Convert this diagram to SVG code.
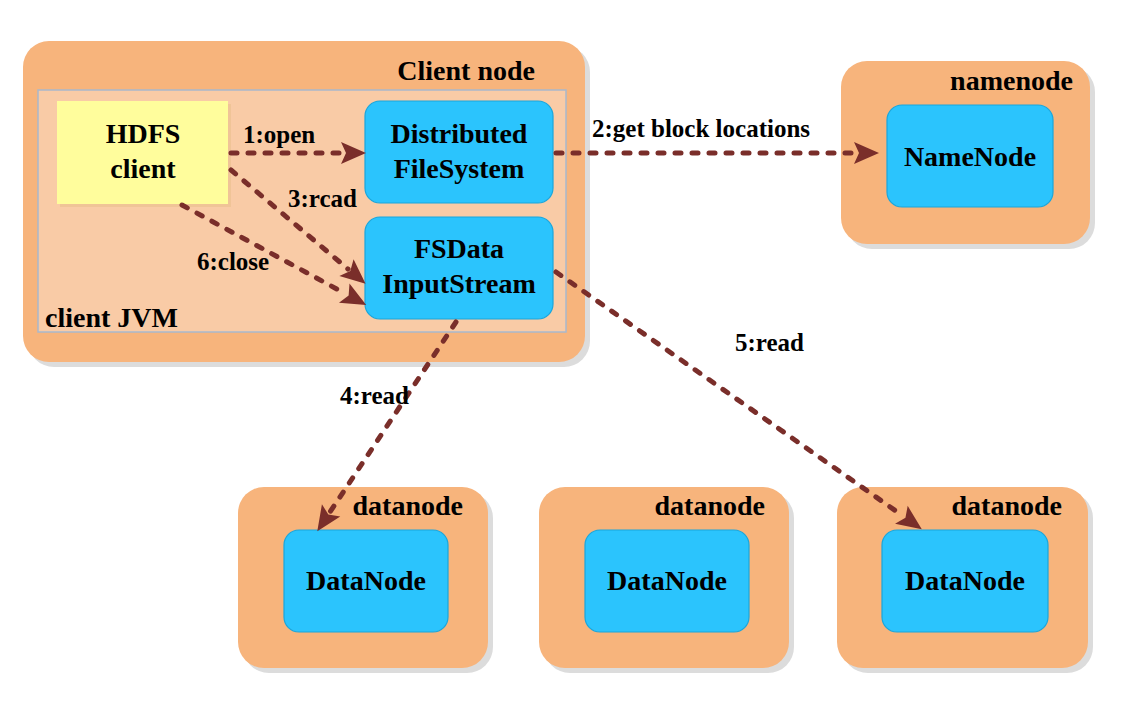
<svg xmlns="http://www.w3.org/2000/svg" width="1130" height="710" viewBox="0 0 1130 710">
<style>
.shadow{fill:#DCDCDC}
.outer{fill:#F7B47C}
.jvm{fill:#F9CBA6;stroke:#A9B8CC;stroke-width:1.5}
.yellow{fill:#FFFD9C}
.blue{fill:#2BC4FD;stroke:#1AA6DC;stroke-width:1.2}
.t{font-family:'Liberation Serif','DejaVu Serif',serif;font-weight:bold;font-size:28px;fill:#000}
.c{text-anchor:middle}
.e{text-anchor:end}
.lbl{font-family:'Liberation Serif','DejaVu Serif',serif;font-weight:bold;font-size:25px;fill:#000}
.conn{fill:none;stroke:#7A2E2A;stroke-width:5;stroke-dasharray:6 11;stroke-linecap:round}
</style>
<defs>
<marker id="ah" markerUnits="userSpaceOnUse" markerWidth="26" markerHeight="24" refX="2" refY="11" orient="auto" overflow="visible">
<path d="M0,0 L25,11 L0,22 L5,11 Z" fill="#7A2E2A"/>
</marker>
</defs>
<rect width="1130" height="710" fill="#fff"/>

<g id="client-node">
<rect class="shadow" x="28" y="46" width="562" height="321" rx="26"/>
<rect class="outer" x="23" y="41" width="562" height="321" rx="26"/>
<text class="t e" x="535" y="80">Client node</text>
</g>
<g id="client-jvm">
<rect class="jvm" x="38" y="90" width="528" height="242"/>
<text class="t" x="45" y="327">client JVM</text>
</g>
<g id="hdfs-client">
<rect x="60" y="104" width="171" height="103" fill="#E9C08E" opacity="0.6"/>
<rect class="yellow" x="57" y="101" width="171" height="103"/>
<text class="t c" x="143" y="143">HDFS</text>
<text class="t c" x="143" y="178">client</text>
</g>
<g id="distributed-filesystem">
<rect class="blue" x="365" y="101" width="188" height="102" rx="15"/>
<text class="t c" x="459" y="143">Distributed</text>
<text class="t c" x="459" y="178">FileSystem</text>
</g>
<g id="fsdata-inputstream">
<rect class="blue" x="365" y="217" width="188" height="102" rx="15"/>
<text class="t c" x="459" y="258">FSData</text>
<text class="t c" x="459" y="293">InputStream</text>
</g>

<g id="namenode">
<rect class="shadow" x="846" y="66" width="249" height="183" rx="26"/>
<rect class="outer" x="841" y="61" width="249" height="183" rx="26"/>
<text class="t e" x="1073" y="90">namenode</text>
<rect class="blue" x="887" y="105" width="166" height="102" rx="15"/>
<text class="t c" x="970" y="166">NameNode</text>
</g>

<g id="datanode-1">
<rect class="shadow" x="243" y="492" width="250" height="181" rx="26"/>
<rect class="outer" x="238" y="487" width="250" height="181" rx="26"/>
<text class="t e" x="463" y="515">datanode</text>
<rect class="blue" x="284" y="530" width="164" height="102" rx="15"/>
<text class="t c" x="366" y="590">DataNode</text>
</g>
<g id="datanode-2">
<rect class="shadow" x="544" y="492" width="250" height="181" rx="26"/>
<rect class="outer" x="539" y="487" width="250" height="181" rx="26"/>
<text class="t e" x="765" y="515">datanode</text>
<rect class="blue" x="585" y="530" width="164" height="102" rx="15"/>
<text class="t c" x="667" y="590">DataNode</text>
</g>
<g id="datanode-3">
<rect class="shadow" x="842" y="492" width="251" height="181" rx="26"/>
<rect class="outer" x="837" y="487" width="251" height="181" rx="26"/>
<text class="t e" x="1062" y="515">datanode</text>
<rect class="blue" x="882" y="530" width="166" height="102" rx="15"/>
<text class="t c" x="965" y="590">DataNode</text>
</g>

<g id="connectors">
<line class="conn" x1="231" y1="153" x2="343" y2="153" marker-end="url(#ah)"/>
<line class="conn" x1="556" y1="153" x2="856" y2="153" marker-end="url(#ah)"/>
<line class="conn" x1="231" y1="170" x2="348" y2="269" marker-end="url(#ah)"/>
<line class="conn" x1="182" y1="205" x2="346" y2="294" marker-end="url(#ah)"/>
<line class="conn" x1="456" y1="322" x2="330" y2="512" marker-end="url(#ah)"/>
<line class="conn" x1="556" y1="272" x2="903" y2="516" marker-end="url(#ah)"/>
<text class="lbl" x="243" y="143">1:open</text>
<text class="lbl" x="592" y="137">2:get block locations</text>
<text class="lbl" x="288" y="207">3:rcad</text>
<text class="lbl" x="197" y="270">6:close</text>
<text class="lbl" x="340" y="404">4:read</text>
<text class="lbl" x="735" y="351">5:read</text>
</g>
</svg>
